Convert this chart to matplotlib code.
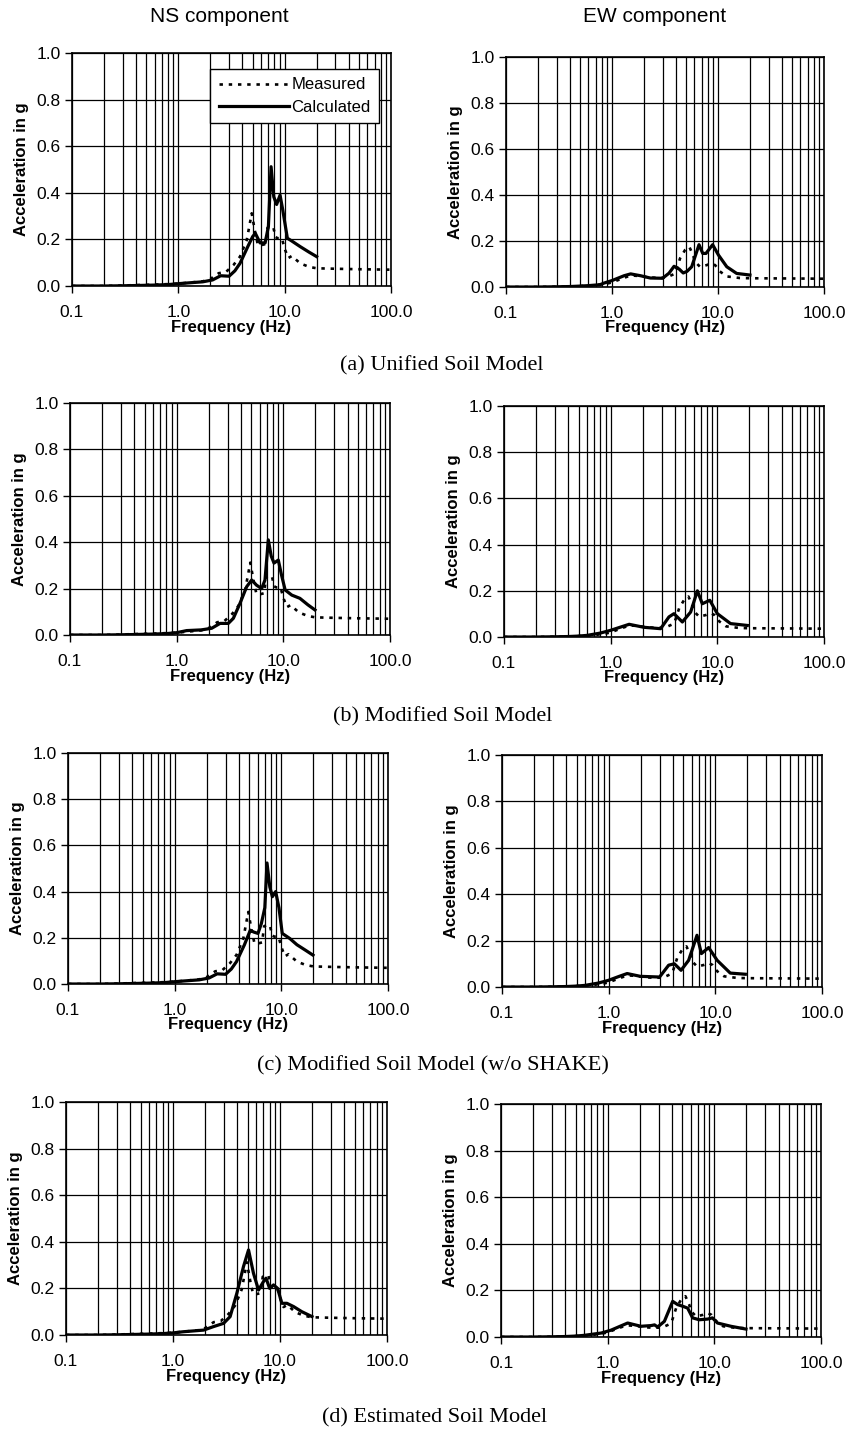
import matplotlib
matplotlib.use("Agg")
import matplotlib.pyplot as plt
from matplotlib.ticker import FixedLocator, NullFormatter, NullLocator
import numpy as np

# measured spectra (same in every row)
meas_ns_f = [0.1, 0.2, 0.3, 0.4, 0.5, 0.7, 1.0, 1.3, 1.7, 2.0, 2.4, 2.8, 3.3, 3.8, 4.4, 4.9, 5.3, 5.6,
             6.1, 6.6, 6.9, 7.3, 7.8, 8.2, 8.6, 9.4, 10.1, 10.8, 11.7, 14.0, 17.0, 20.0, 30.0, 50.0, 100.0]
meas_ns_a = [0.0, 0.0, 0.002, 0.004, 0.005, 0.007, 0.01, 0.015, 0.02, 0.03, 0.055, 0.06, 0.09, 0.126, 0.197,
             0.312, 0.226, 0.176, 0.176, 0.18, 0.25, 0.255, 0.255, 0.21, 0.205, 0.205, 0.155, 0.12, 0.129,
             0.097, 0.082, 0.076, 0.074, 0.072, 0.07]

meas_ew_f = [0.1, 0.2, 0.3, 0.4, 0.5, 0.7, 0.9, 1.0, 1.3, 1.5, 1.8, 2.2, 2.6, 3.0, 3.4, 3.8, 4.0, 4.39,
             4.89, 5.36, 5.8, 6.07, 6.76, 7.8, 8.7, 9.4, 10.4, 12.1, 16.1, 20.0, 50.0, 100.0]
meas_ew_a = [0.0, 0.0, 0.001, 0.002, 0.004, 0.008, 0.015, 0.02, 0.04, 0.05, 0.048, 0.042, 0.04, 0.04,
             0.045, 0.055, 0.068, 0.125, 0.161, 0.175, 0.14, 0.11, 0.088, 0.095, 0.103, 0.095, 0.068,
             0.046, 0.039, 0.038, 0.037, 0.036]

# calculated spectra, NS component
calc_ns_a_f = [0.1, 0.2, 0.3, 0.4, 0.6, 0.8, 1.0, 1.3, 1.7, 2.1, 2.5, 3.0, 3.4, 3.8, 4.5, 5.0, 5.3,
               5.87, 6.55, 7.03, 7.45, 7.9, 8.4, 9.05, 9.6, 10.6, 11.5, 14.0, 17.0, 20.0]
calc_ns_a_a = [0.0, 0.0, 0.001, 0.002, 0.004, 0.006, 0.01, 0.014, 0.018, 0.026, 0.044, 0.042, 0.065,
               0.097, 0.169, 0.212, 0.226, 0.185, 0.185, 0.255, 0.512, 0.383, 0.35, 0.39, 0.326, 0.205,
               0.195, 0.169, 0.145, 0.126]

calc_ns_b_f = [0.1, 0.2, 0.3, 0.4, 0.6, 0.8, 1.0, 1.24, 1.7, 2.13, 2.55, 3.05, 3.4, 3.92, 4.53, 5.05,
               5.6, 6.26, 6.73, 7.23, 7.7, 8.18, 8.97, 9.6, 10.4, 12.0, 14.3, 17.0, 19.8]
calc_ns_b_a = [0.0, 0.0, 0.001, 0.002, 0.004, 0.006, 0.01, 0.019, 0.022, 0.029, 0.05, 0.05, 0.072,
               0.136, 0.208, 0.237, 0.215, 0.2, 0.237, 0.41, 0.34, 0.31, 0.323, 0.26, 0.194, 0.172,
               0.158, 0.13, 0.108]

calc_ns_c_f = [0.1, 0.2, 0.3, 0.4, 0.6, 0.8, 1.0, 1.3, 1.7, 2.1, 2.5, 3.0, 3.4, 3.8, 4.5, 5.12, 5.5,
               6.04, 6.5, 7.0, 7.34, 7.8, 8.24, 8.85, 9.5, 10.2, 12.0, 14.0, 17.0, 19.8]
calc_ns_c_a = [0.0, 0.0, 0.001, 0.002, 0.004, 0.006, 0.01, 0.014, 0.018, 0.026, 0.044, 0.042, 0.065,
               0.097, 0.169, 0.233, 0.225, 0.219, 0.262, 0.33, 0.524, 0.42, 0.378, 0.40, 0.33, 0.219,
               0.197, 0.17, 0.145, 0.125]

calc_ns_d_f = [0.1, 0.2, 0.3, 0.4, 0.6, 0.8, 1.0, 1.25, 1.93, 2.39, 2.97, 3.42, 3.95, 4.56, 5.08, 5.65,
               6.3, 7.0, 7.4, 8.0, 8.7, 9.5, 10.4, 11.6, 13.4, 16.0, 19.9]
calc_ns_d_a = [0.0, 0.0, 0.001, 0.002, 0.004, 0.006, 0.009, 0.014, 0.021, 0.036, 0.05, 0.079, 0.179,
               0.294, 0.365, 0.265, 0.193, 0.229, 0.244, 0.2, 0.215, 0.2, 0.136, 0.136, 0.122, 0.1, 0.079]

# calculated spectra, EW component
calc_ew_a_f = [0.1, 0.2, 0.3, 0.4, 0.5, 0.6, 0.77, 0.84, 1.0, 1.3, 1.5, 1.86, 2.3, 3.0, 3.45, 3.85,
               4.3, 4.7, 5.1, 5.65, 6.62, 7.18, 7.7, 8.9, 10.1, 12.1, 15.0, 20.0]
calc_ew_a_a = [0.0, 0.0, 0.001, 0.002, 0.004, 0.006, 0.01, 0.017, 0.028, 0.049, 0.057, 0.049, 0.039,
               0.038, 0.06, 0.09, 0.078, 0.061, 0.068, 0.088, 0.184, 0.146, 0.146, 0.184, 0.139, 0.088,
               0.059, 0.052]

calc_ew_b_f = [0.1, 0.2, 0.3, 0.4, 0.5, 0.6, 0.8, 1.0, 1.24, 1.49, 2.05, 2.94, 3.52, 3.92, 4.7, 5.62,
               6.5, 7.23, 8.5, 10.0, 13.3, 19.1]
calc_ew_b_a = [0.0, 0.0, 0.001, 0.002, 0.004, 0.007, 0.017, 0.029, 0.043, 0.055, 0.042, 0.036, 0.087,
               0.101, 0.065, 0.108, 0.2, 0.144, 0.159, 0.101, 0.058, 0.05]

calc_ew_c_f = [0.1, 0.2, 0.3, 0.4, 0.5, 0.6, 0.8, 1.0, 1.24, 1.49, 1.98, 3.0, 3.65, 4.13, 4.77, 5.62,
               6.73, 7.4, 8.66, 10.4, 13.8, 19.1]
calc_ew_c_a = [0.0, 0.0, 0.001, 0.002, 0.004, 0.007, 0.017, 0.029, 0.045, 0.058, 0.046, 0.043, 0.094,
               0.1, 0.072, 0.115, 0.223, 0.144, 0.17, 0.115, 0.06, 0.055]

calc_ew_d_f = [0.1, 0.2, 0.3, 0.4, 0.5, 0.6, 0.87, 1.07, 1.54, 2.05, 2.55, 2.75, 2.94, 3.4, 4.07,
               4.53, 5.05, 5.62, 6.26, 7.23, 8.66, 9.6, 10.7, 14.3, 19.8]
calc_ew_d_a = [0.0, 0.0, 0.001, 0.002, 0.004, 0.007, 0.017, 0.029, 0.06, 0.046, 0.049, 0.052, 0.043,
               0.067, 0.153, 0.139, 0.132, 0.124, 0.082, 0.074, 0.077, 0.082, 0.06, 0.046, 0.034]

captions = ["(a) Unified Soil Model", "(b) Modified Soil Model",
            "(c) Modified Soil Model (w/o SHAKE)", "(d) Estimated Soil Model"]
col_titles = ["NS component", "EW component"]
xticks = [0.1, 1.0, 10.0, 100.0]
xticklabels = ["0.1", "1.0", "10.0", "100.0"]
yticks = [0.0, 0.2, 0.4, 0.6, 0.8, 1.0]

calc_ns = [(calc_ns_a_f, calc_ns_a_a), (calc_ns_b_f, calc_ns_b_a),
           (calc_ns_c_f, calc_ns_c_a), (calc_ns_d_f, calc_ns_d_a)]
calc_ew = [(calc_ew_a_f, calc_ew_a_a), (calc_ew_b_f, calc_ew_b_a),
           (calc_ew_c_f, calc_ew_c_a), (calc_ew_d_f, calc_ew_d_a)]

W, H = 848, 1430
fig = plt.figure(figsize=(W / 100, H / 100), dpi=100)
plt.rcParams['font.family'] = ['Liberation Sans', 'DejaVu Sans']

# axes boxes in pixels: left, right, top, bottom
boxes = [
    [(72, 391, 53, 286), (506, 824, 57, 287)],
    [(70, 390, 403, 635), (504, 824, 406, 637)],
    [(68, 388, 753, 984), (502, 822, 755, 987)],
    [(66, 387, 1102, 1335), (501, 821, 1104, 1337)],
]
cap_pos = [(442, 366), (443, 717), (433, 1066), (435, 1418)]
title_pos = [(219, 17), (655, 17)]

minor_grid = [m * 10.0 ** e for e in (-1, 0, 1) for m in range(1, 10)] + [100.0]

for r in range(4):
    for c in range(2):
        l, rr, t, b = boxes[r][c]
        ax = fig.add_axes([l / W, 1 - b / H, (rr - l) / W, (b - t) / H])
        ax.set_xscale("log")
        ax.set_xlim(0.1, 100)
        ax.set_ylim(0, 1.0)
        for g in minor_grid:
            ax.axvline(g, color="black", lw=0.9, zorder=1)
        for y in yticks:
            ax.axhline(y, color="black", lw=0.9, zorder=1)
        mf, ma = (meas_ns_f, meas_ns_a) if c == 0 else (meas_ew_f, meas_ew_a)
        cf, ca = calc_ns[r] if c == 0 else calc_ew[r]
        ax.plot(mf, ma, color="black", lw=1.9, linestyle=(0, (1.3, 2.2)),
                dash_capstyle="butt", label="Measured", zorder=4)
        ax.plot(cf, ca, color="black", lw=2.3, label="Calculated", zorder=3,
                solid_joinstyle="round")
        ax.xaxis.set_major_locator(FixedLocator(xticks))
        ax.xaxis.set_minor_locator(NullLocator())
        ax.xaxis.set_minor_formatter(NullFormatter())
        ax.set_xticklabels(xticklabels)
        ax.set_yticks(yticks)
        ax.set_yticklabels(["%.1f" % v for v in yticks])
        ax.tick_params(axis="x", direction="out", length=5, width=1, pad=9, labelsize=12.5)
        ax.tick_params(axis="y", direction="out", length=5, width=1, pad=3, labelsize=12.5)
        for s in ax.spines.values():
            s.set_linewidth(1.2)
            s.set_color("black")
        ax.set_xlabel("Frequency (Hz)", fontsize=12, fontweight="bold")
        ax.set_ylabel("Acceleration in g", fontsize=12, fontweight="bold")
        ax.xaxis.set_label_coords(0.5, -0.145)
        ax.yaxis.set_label_coords(-0.135, 0.5)
        if r == 0 and c == 0:
            leg = ax.legend(loc="upper right", bbox_to_anchor=(0.962, 0.931), borderaxespad=0,
                            fontsize=12, handlelength=4.2, handletextpad=0.15, labelspacing=0.45,
                            fancybox=False, framealpha=1, edgecolor="black", borderpad=0.5)
            leg.get_frame().set_linewidth(1.0)
            leg.set_zorder(10)

for ttl, (x, y) in zip(col_titles, title_pos):
    fig.text(x / W, 1 - y / H, ttl, ha="center", va="center", fontsize=15)

for cap, (x, y) in zip(captions, cap_pos):
    fig.text(x / W, 1 - y / H, cap, ha="center", va="center", fontsize=16,
             family="Liberation Serif")

plt.savefig("out.png", dpi=100, facecolor="white")
